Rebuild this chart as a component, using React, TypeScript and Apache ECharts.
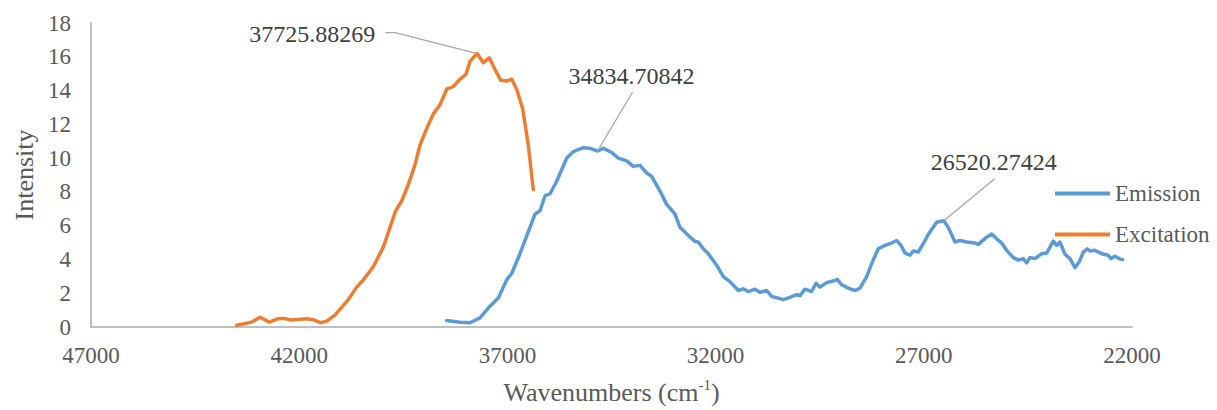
import React, { useEffect, useRef } from 'react';
import * as echarts from 'echarts';

// ---- data ----
const seriesNames = ['Emission', 'Excitation'];
const xTickValues = [47000, 42000, 37000, 32000, 27000, 22000];
const xMin = 22000;
const xMax = 47000;
const yMin = 0;
const yMax = 18;
const yInterval = 2;

const emissionX = [
  38462, 38138, 37898, 37658, 37418, 37219, 37017, 36897, 36698, 36458, 36337, 36217, 36097, 35977, 35816,
  35576, 35417, 35177, 35017, 34834.70842, 34697, 34495, 34337, 34135, 33977, 33816, 33655, 33535, 33336,
  33175, 32975, 32855, 32656, 32495, 32416, 32296, 32175, 31974, 31815, 31655, 31455, 31335, 31215, 31054,
  30934, 30773, 30653, 30495, 30375, 30214, 30053, 29974, 29854, 29693, 29589, 29493, 29333, 29133, 29078,
  28972, 28814, 28653, 28533, 28372, 28252, 28093, 27932, 27812, 27651, 27548, 27452, 27332, 27253, 27133,
  27013, 26892, 26691, 26520.27424, 26412, 26251, 26131, 25970, 25771, 25691, 25490, 25370, 25250, 25130,
  25010, 24851, 24731, 24611, 24529, 24450, 24330, 24169, 24049, 23969, 23890, 23809, 23730, 23610, 23490,
  23370, 23266, 23170, 23074, 23009, 22889, 22728, 22569, 22511, 22408, 22288, 22222,
];
const emissionY = [
  0.38, 0.28, 0.25, 0.54, 1.23, 1.71, 2.79, 3.17, 4.34, 5.9, 6.68, 6.88, 7.76, 7.89, 8.63,
  10.0, 10.38, 10.62, 10.58, 10.42, 10.58, 10.33, 10.0, 9.84, 9.51, 9.57, 9.12, 8.92, 8.05,
  7.26, 6.68, 5.9, 5.42, 5.07, 5.03, 4.63, 4.34, 3.66, 2.98, 2.69, 2.16, 2.26, 2.1, 2.24,
  2.06, 2.16, 1.81, 1.71, 1.62, 1.75, 1.91, 1.85, 2.24, 2.1, 2.59, 2.36, 2.63, 2.75, 2.82,
  2.5, 2.3, 2.16, 2.3, 2.98, 3.76, 4.63, 4.83, 4.93, 5.12, 4.83, 4.38, 4.25, 4.5, 4.44,
  4.93, 5.48, 6.2, 6.29, 5.9, 5.03, 5.12, 5.03, 4.97, 4.89, 5.32, 5.51, 5.22, 4.97,
  4.54, 4.11, 3.96, 4.05, 3.8, 4.11, 4.05, 4.34, 4.38, 4.73, 5.08, 4.83, 5.03, 4.31, 4.05,
  3.51, 3.86, 4.44, 4.63, 4.5, 4.54, 4.34, 4.25, 4.05, 4.19, 4.02, 3.99,
];

const excitationX = [
  43500, 43141, 42941, 42718, 42502, 42382, 42180, 41820, 41661, 41484, 41340, 41140, 40821, 40619,
  40461, 40221, 39980, 39819, 39683, 39539, 39380, 39220, 39100, 38938, 38779, 38619, 38458, 38299,
  38139, 37995, 37898, 37725.88269, 37579, 37435, 37298, 37161, 37017, 36897, 36777, 36633, 36498, 36378,
];
const excitationY = [
  0.1, 0.29, 0.58, 0.29, 0.49, 0.51, 0.41, 0.49, 0.43, 0.25, 0.35, 0.7, 1.62, 2.36,
  2.79, 3.57, 4.73, 5.9, 6.88, 7.46, 8.43, 9.6, 10.77, 11.75, 12.62, 13.15, 14.08, 14.24,
  14.67, 14.96, 15.74, 16.19, 15.65, 15.94, 15.25, 14.61, 14.57, 14.67, 14.08, 12.92, 10.77, 8.14,
];

// annotated peaks (wavenumber, intensity)
const peakX = [37725.88269, 34834.70842, 26520.27424];
const peakY = [16.19, 10.42, 6.29];

// ---- styles ----
const FONT = "'Liberation Serif', serif";
const GRAY_TEXT = '#595959';
const AXIS_GRAY = '#BFBFBF';
const COLORS = ['#5B9BD5', '#ED7D31'];
// label placement relative to each peak point (pixels)
const annoLayout = [
  { tx: -165, ty: -20, pts: [[-82, -21], [-92, -21]] },
  { tx: 34, ty: -75, pts: [[35, -59]] },
  { tx: 50, ty: -59, pts: [[51, -42]] },
];

function zip(xs: number[], ys: number[]) {
  return xs.map((x, i) => [x, ys[i]]);
}

export default function App() {
  const ref = useRef<HTMLDivElement>(null);
  useEffect(() => {
    const chart = echarts.init(ref.current!, null, { renderer: 'svg' });
    const option: any = {
      animation: false,
      backgroundColor: '#ffffff',
      textStyle: { fontFamily: FONT },
      grid: { left: 91, right: 85, top: 23, bottom: 79, containLabel: false },
      legend: {
        data: seriesNames,
        orient: 'vertical',
        left: 1050,
        top: 177,
        itemWidth: 55,
        itemHeight: 4,
        itemGap: 18,
        icon: 'rect',
        textStyle: { fontFamily: FONT, fontSize: 23, color: GRAY_TEXT },
        selectedMode: false,
      },
      xAxis: {
        type: 'value',
        inverse: true,
        min: xMin,
        max: xMax,
        name: '{a|Wavenumbers (cm}{s|-1}{a|)}',
        nameLocation: 'middle',
        nameGap: 50,
        nameTextStyle: {
          rich: {
            a: { fontFamily: FONT, fontSize: 26, color: GRAY_TEXT, lineHeight: 30 },
            s: { fontFamily: FONT, fontSize: 15, color: GRAY_TEXT, verticalAlign: 'top', lineHeight: 30 },
          },
        },
        axisLine: { show: true, lineStyle: { color: AXIS_GRAY, width: 2 } },
        axisTick: { show: false },
        splitLine: { show: false },
        axisLabel: {
          customValues: xTickValues,
          formatter: (v: number) => String(v),
          fontFamily: FONT,
          fontSize: 23,
          color: GRAY_TEXT,
          margin: 17,
        },
      },
      yAxis: {
        type: 'value',
        min: yMin,
        max: yMax,
        interval: yInterval,
        name: 'Intensity',
        nameLocation: 'middle',
        nameGap: 54,
        nameTextStyle: { fontFamily: FONT, fontSize: 26, color: GRAY_TEXT },
        axisLine: { show: true, lineStyle: { color: AXIS_GRAY, width: 2 } },
        axisTick: { show: false },
        splitLine: { show: false },
        axisLabel: { fontFamily: FONT, fontSize: 23, color: GRAY_TEXT, margin: 20 },
      },
      series: [
        {
          name: seriesNames[0],
          type: 'line',
          data: zip(emissionX, emissionY),
          symbol: 'none',
          color: COLORS[0],
          lineStyle: { width: 3.5, color: COLORS[0], cap: 'round', join: 'round' },
          silent: true,
          z: 2,
        },
        {
          name: seriesNames[1],
          type: 'line',
          data: zip(excitationX, excitationY),
          symbol: 'none',
          color: COLORS[1],
          lineStyle: { width: 3.5, color: COLORS[1], cap: 'round', join: 'round' },
          silent: true,
          z: 2,
        },
        {
          name: 'annotations',
          type: 'custom',
          coordinateSystem: 'cartesian2d',
          data: zip(peakX, peakY),
          encode: { x: 0, y: 1 },
          silent: true,
          clip: false,
          z: 5,
          renderItem: (params: any, api: any) => {
            const xv = api.value(0);
            const yv = api.value(1);
            const p = api.coord([xv, yv]);
            const L = annoLayout[params.dataIndex];
            const pts = [[p[0], p[1]], ...L.pts.map((q: number[]) => [p[0] + q[0], p[1] + q[1]])];
            return {
              type: 'group',
              children: [
                {
                  type: 'polyline',
                  shape: { points: pts },
                  style: { stroke: '#A6A6A6', lineWidth: 1.3, fill: null },
                },
                {
                  type: 'text',
                  x: p[0] + L.tx,
                  y: p[1] + L.ty,
                  style: {
                    text: String(xv),
                    font: '24px ' + FONT,
                    fill: '#404040',
                    align: 'center',
                    verticalAlign: 'middle',
                  },
                },
              ],
            };
          },
        },
      ],
    };
    chart.setOption(option);
    return () => chart.dispose();
  }, []);
  return (
    <div
      ref={ref}
      style={{ position: 'fixed', left: 0, top: 0, width: 1217, height: 410, background: '#fff' }}
    />
  );
}
